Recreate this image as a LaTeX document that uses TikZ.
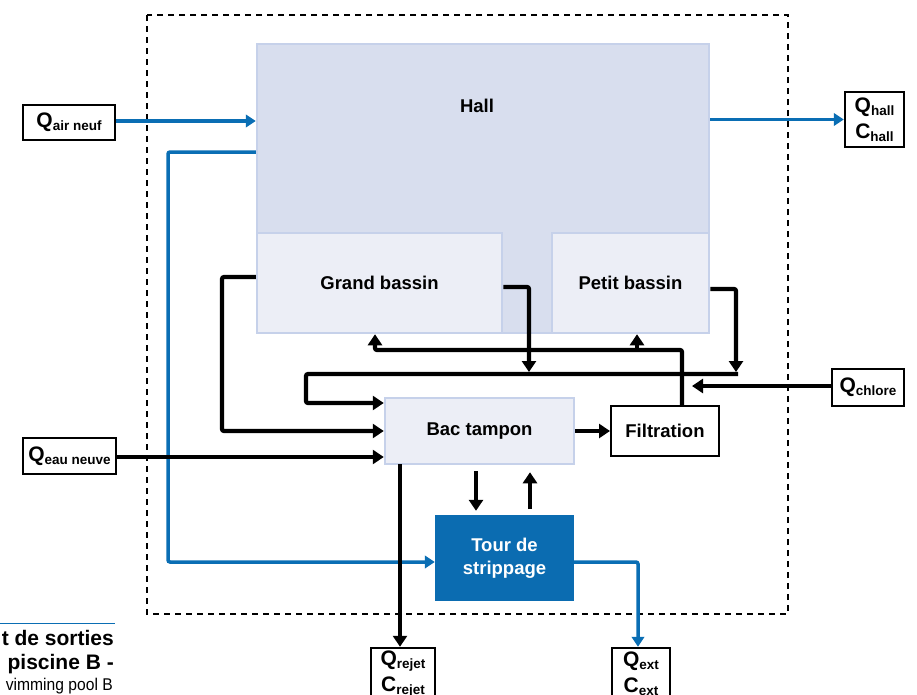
\documentclass[tikz,border=0pt]{standalone}
\usepackage{fontspec}
\setmainfont{Liberation Sans}
\usetikzlibrary{arrows.meta,calc}
\definecolor{hallfill}{RGB}{216,222,238}
\definecolor{paleedge}{RGB}{198,209,234}
\definecolor{basfill}{RGB}{236,238,246}
\definecolor{myblue}{RGB}{10,110,180}
\definecolor{tourblue}{RGB}{11,108,177}
\newcommand{\qsub}[2]{{\fontsize{21}{26}\selectfont #1}\raisebox{-3pt}{\fontsize{13.5}{14}\selectfont #2}}
\begin{document}
\begin{tikzpicture}[x=1pt,y=-1pt,
  zone/.style={draw=paleedge,line width=2.5pt,fill=basfill,inner sep=0pt},
  hallbox/.style={draw=paleedge,line width=2.5pt,fill=hallfill,inner sep=0pt},
  lbl/.style={font=\bfseries\fontsize{18.5}{23}\selectfont,inner sep=0pt,align=center},
  qbox/.style={draw=black,line width=2.5pt,fill=white,inner sep=0pt,align=center,font=\bfseries\fontsize{21}{26}\selectfont},
  conn/.style={line width=4.2pt,draw=black,-{Triangle[width=14pt,length=11pt]}},
  bluearrow/.style={line width=3.5pt,draw=myblue,-{Triangle[width=12.5pt,length=10pt]}},
]
\useasboundingbox (0,0) rectangle (917,694);

% system boundary
\draw[line width=2.5pt,dash pattern=on 6pt off 5pt] (147,15) rectangle (788,614);

% zones
\node[hallbox,minimum width=452pt,minimum height=289pt] (hall) at (483,188.5) {};
\node[lbl] (halltxt) at (477,106) {Hall};
\node[zone,minimum width=245pt,minimum height=100pt,lbl] (gb) at (379.5,283) {Grand bassin};
\node[zone,minimum width=157pt,minimum height=100pt,lbl] (pb) at (630.5,283) {Petit bassin};
\node[zone,minimum width=189pt,minimum height=66pt,lbl] (bt) at (479.5,431) {Bac tampon};
\node[draw=black,line width=2pt,fill=white,minimum width=108pt,minimum height=50pt,lbl] (filt) at (665,431) {Filtration};
\node[fill=tourblue,text=white,minimum width=139pt,minimum height=86pt,lbl] (tour) at (504.5,558) {Tour de\\strippage};

% inputs / outputs
\node[qbox,minimum width=92pt,minimum height=35pt] (qair) at (69,122.5) {\qsub{Q}{air neuf}};
\node[qbox,minimum width=59pt,minimum height=55pt] (qhall) at (874.5,119.5) {\qsub{Q}{hall}\\\qsub{C}{hall}};
\node[qbox,minimum width=72pt,minimum height=37pt] (qchl) at (868,387.5) {\qsub{Q}{chlore}};
\node[qbox,minimum width=93pt,minimum height=36pt] (qeau) at (69.5,456) {\qsub{Q}{eau neuve}};
\node[qbox,minimum width=64pt,minimum height=52pt] (qrej) at (403,674) {\qsub{Q}{rejet}\\\qsub{C}{rejet}};
\node[qbox,minimum width=58pt,minimum height=52pt] (qext) at (641,674) {\qsub{Q}{ext}\\\qsub{C}{ext}};

% elbow points
\coordinate (kb1) at (168,152);
\coordinate (kb2) at (168,562);
\coordinate (ke) at (638,562);
\coordinate (g1) at (222,277);
\coordinate (g2) at (529,287);
\coordinate (g3) at (529,372);
\coordinate (p2) at (736,289);
\coordinate (p3) at (736,372);
\coordinate (c1) at (738,374);
\coordinate (c2) at (306,374);
\coordinate (c3) at (306,403);
\coordinate (f1) at (682,350);
\coordinate (f2) at (375,350);
\coordinate (f3) at (637,350);
\coordinate (ch) at (692,386);
\coordinate (d1) at (476,471);
\coordinate (u1) at (530,509);
\coordinate (r1) at (400,464);

% air circuit (blue)
\draw[bluearrow] (qair.east |- 0,121) -- (hall.west |- 0,121);
\draw[bluearrow,rounded corners=2pt] (hall.west |- kb1) -- (kb1) -- (kb2) -- (kb2 -| tour.west);
\draw[bluearrow] (hall.east |- qhall.west) -- (qhall.west);
\draw[bluearrow,rounded corners=2pt] (tour.east |- ke) -- (ke) -- (ke |- qext.north);

% water circuit (black)
\draw[conn,rounded corners=2pt] (gb.west |- g1) -- (g1) -- (g1 |- bt.west) -- (bt.west);
\draw[conn,rounded corners=2pt] (gb.east |- g2) -- (g2) -- (g3);
\draw[conn,rounded corners=2pt] (pb.east |- p2) -- (p2) -- (p3);
\draw[conn,rounded corners=2pt] (c1) -- (c2) -- (c3) -- (c3 -| bt.west);
\draw[conn,rounded corners=2pt] (filt.north -| f1) -- (f1) -- (f2) -- (f2 |- gb.south);
\draw[conn] (f3) -- (f3 |- pb.south);
\draw[conn] (qchl.west |- ch) -- (ch);
\draw[conn] (bt.east) -- (bt.east -| filt.west);
\draw[conn] (qeau.east |- 0,457) -- (bt.west |- 0,457);
\draw[conn,shorten >=4pt] (d1) -- (d1 |- tour.north);
\draw[conn,shorten >=7pt] (u1) -- (u1 |- bt.south);
\draw[conn] (r1) -- (r1 |- qrej.north);

% caption fragment
\draw[myblue,line width=0.8pt] (0,623) -- (115,623);
\node[anchor=base east,inner sep=0pt,font=\bfseries\fontsize{21}{24}\selectfont] (cap1) at (114,645) {t de sorties};
\node[anchor=base east,inner sep=0pt,font=\bfseries\fontsize{21}{24}\selectfont] (cap2) at (114,669) {piscine B -};
\node[anchor=base east,inner sep=0pt,font=\fontsize{17}{20}\selectfont] (cap3) at (113,690) {\scalebox{0.92}[1]{vimming pool B}};
\end{tikzpicture}
\end{document}
